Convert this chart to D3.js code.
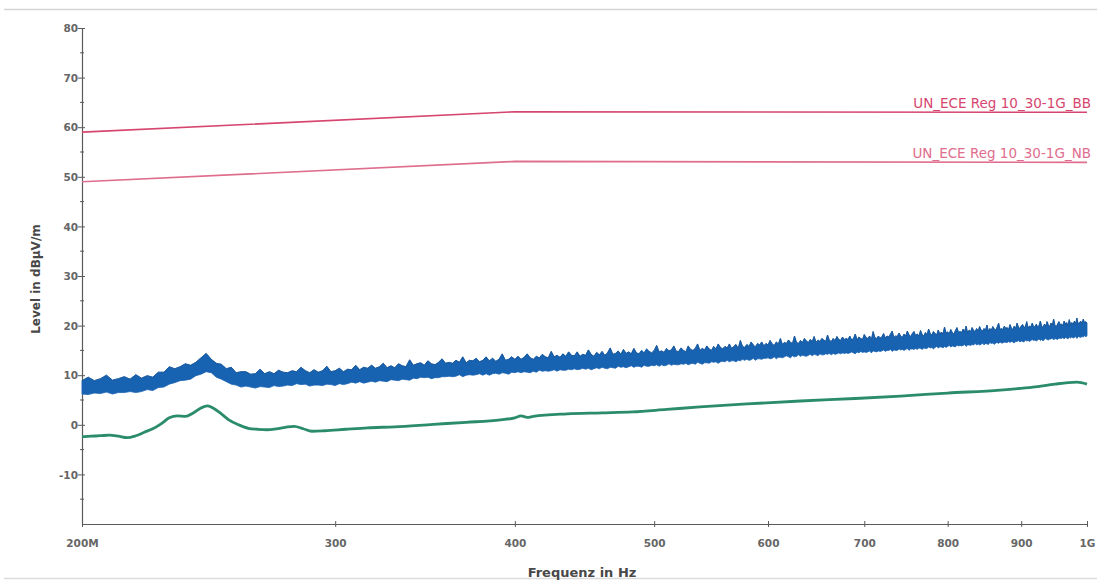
<!DOCTYPE html>
<html>
<head>
<meta charset="utf-8">
<script src="https://cdn.jsdelivr.net/npm/d3@7"></script>
<style>
  html, body { margin: 0; padding: 0; background: #fff; }
  svg { display: block; }
  text { font-family: "DejaVu Sans", Verdana, sans-serif; }
</style>
</head>
<body>
<svg id="chart" width="1097" height="581"></svg>
<script>
// ---- data ---------------------------------------------------------------
// Axis ticks
const yTicks = [-10, 0, 10, 20, 30, 40, 50, 60, 70, 80];
const yMinorTicks = [-15, -5, 5, 15, 25, 35, 45, 55, 65, 75];
const xTickFreqs = [200, 300, 400, 500, 600, 700, 800, 900, 1000];
const xTickLabels = ["200M", "300", "400", "500", "600", "700", "800", "900", "1G"];

// Limit lines (MHz, dBµV/m)
const limitFreq = [200, 400, 1000];
const limitBB = [59.0, 63.1, 63.0];
const limitNB = [49.0, 53.1, 52.9];
const limitNames = ["UN_ECE Reg 10_30-1G_BB", "UN_ECE Reg 10_30-1G_NB"];

// Peak sweep: 200 MHz .. 1 GHz in 2 MHz steps; upper and lower envelope of the trace
const sweepStartMHz = 200;
const sweepStepMHz = 2;
const peakHi = [
  8.9, 9.6, 8.9, 9.3, 10.0, 9.0, 9.3, 9.7, 9.2, 10.1, 9.4, 9.9, 9.6, 10.6, 10.6, 11.7, 11.3, 11.7, 12.3, 12.0,
  12.6, 13.5, 14.4, 13.2, 12.4, 12.2, 11.3, 11.6, 10.5, 10.7, 10.7, 10.2, 10.3, 11.2, 10.3, 10.7, 10.3, 11.0, 10.6, 10.5,
  10.9, 10.7, 11.6, 10.9, 10.5, 11.1, 10.6, 10.9, 11.8, 10.7, 10.9, 11.4, 10.7, 11.2, 11.1, 12.0, 11.1, 11.6, 11.4, 12.0,
  11.4, 11.7, 12.4, 11.5, 11.9, 11.5, 12.3, 11.9, 11.7, 13.1, 12.0, 12.3, 12.5, 12.0, 12.9, 12.3, 12.1, 12.6, 13.3, 12.4,
  12.6, 12.4, 13.0, 12.6, 13.7, 12.5, 13.0, 12.9, 13.4, 12.7, 13.0, 13.7, 12.9, 13.4, 12.8, 13.2, 14.3, 13.0, 13.2, 13.7,
  13.2, 13.8, 13.2, 13.6, 14.3, 13.5, 13.2, 13.8, 13.5, 14.2, 13.7, 13.5, 14.8, 13.7, 14.0, 13.6, 14.3, 13.8, 14.7, 14.0,
  13.9, 14.7, 13.8, 14.2, 14.0, 15.1, 14.2, 13.8, 14.6, 14.1, 14.8, 14.0, 14.5, 15.5, 14.2, 14.4, 14.9, 14.2, 15.2, 14.4,
  14.7, 14.3, 15.4, 14.5, 14.3, 15.0, 14.5, 15.3, 14.8, 14.5, 15.0, 16.0, 14.7, 14.9, 14.6, 15.4, 14.9, 15.1, 15.9, 14.8,
  14.8, 15.5, 15.0, 14.7, 15.9, 15.2, 15.0, 15.4, 16.3, 15.0, 15.4, 15.1, 15.9, 15.3, 15.0, 15.8, 15.3, 16.3, 15.6, 15.3,
  15.8, 15.5, 16.3, 15.4, 15.8, 16.2, 15.4, 17.0, 15.8, 15.6, 16.2, 15.8, 16.7, 16.1, 15.7, 16.4, 16.1, 16.7, 15.9, 16.4,
  16.1, 17.0, 16.3, 16.0, 16.7, 16.3, 17.4, 16.2, 16.6, 16.4, 17.1, 16.6, 16.4, 17.9, 16.6, 16.4, 17.0, 16.6, 17.4, 16.9,
  16.6, 17.2, 16.8, 17.8, 16.6, 17.1, 16.8, 17.4, 17.1, 16.8, 18.1, 17.0, 16.8, 17.4, 17.0, 17.8, 17.2, 17.0, 17.7, 17.2,
  17.4, 17.2, 17.9, 17.1, 17.4, 18.3, 17.1, 17.7, 17.4, 17.2, 18.2, 17.6, 17.4, 17.9, 17.2, 18.8, 17.6, 17.4, 17.9, 17.5,
  17.7, 18.4, 17.5, 17.9, 17.7, 18.3, 18.9, 17.6, 17.9, 17.8, 18.5, 17.9, 17.6, 18.3, 17.9, 18.9, 18.1, 17.8, 18.4, 18.8,
  18.0, 18.3, 17.9, 19.0, 18.2, 17.9, 18.6, 18.2, 19.3, 18.4, 18.1, 18.8, 18.4, 18.1, 19.1, 18.3, 18.7, 18.3, 19.7, 18.5,
  18.7, 18.4, 19.2, 18.6, 18.3, 19.0, 19.6, 18.6, 18.8, 18.6, 19.3, 18.8, 19.9, 18.5, 19.1, 18.8, 19.6, 19.0, 18.8, 19.4,
  18.9, 19.8, 19.1, 18.9, 19.4, 19.1, 20.1, 18.8, 19.4, 19.1, 19.8, 19.3, 19.1, 19.7, 20.5, 19.2, 19.4, 19.2, 19.9, 19.4,
  19.6, 19.2, 20.2, 19.5, 19.2, 19.9, 19.4, 20.5, 19.7, 19.4, 19.9, 20.2, 19.6, 19.8, 20.8, 19.5, 19.9, 19.7, 20.5, 19.8,
  19.7, 20.3, 19.7, 20.0, 20.9, 19.9, 19.6, 20.3, 19.9, 20.8, 20.1, 19.8, 20.5, 20.1, 21.3, 20.0, 19.8, 20.3, 20.8, 20.2,
  20.3, 20.0, 20.9, 20.3, 20.6, 20.0, 21.2, 20.2, 20.6, 20.2, 20.9, 20.4, 21.5, 20.3, 20.6, 20.9, 20.4, 21.3, 20.6, 20.8,
  20.5
];
const peakLo = [
  6.2, 6.1, 6.4, 6.3, 6.6, 6.2, 6.5, 6.5, 6.7, 6.5, 6.7, 7.1, 6.9, 7.5, 7.6, 8.2, 8.5, 8.9, 9.0, 9.2,
  9.9, 10.2, 10.7, 10.5, 9.6, 9.2, 8.7, 8.2, 8.0, 7.6, 7.8, 7.6, 7.4, 7.7, 7.6, 7.5, 7.9, 7.7, 7.8, 8.0,
  7.9, 8.3, 8.1, 8.2, 7.8, 8.0, 8.0, 7.9, 8.2, 8.1, 7.9, 8.3, 8.1, 8.3, 8.6, 8.4, 8.7, 8.4, 8.6, 8.8,
  8.6, 8.9, 8.8, 8.7, 9.1, 9.0, 8.9, 9.2, 9.1, 9.0, 9.4, 9.3, 9.6, 9.5, 9.6, 9.3, 9.5, 9.5, 9.7, 9.7,
  9.8, 9.7, 9.8, 10.1, 9.7, 10.0, 10.1, 10.0, 10.1, 10.3, 10.0, 10.3, 10.0, 10.3, 10.4, 10.2, 10.5, 10.4, 10.2, 10.6,
  10.5, 10.7, 10.5, 10.7, 10.6, 10.5, 10.8, 10.6, 11.0, 10.8, 10.9, 10.8, 10.9, 11.1, 10.8, 11.1, 11.0, 11.0, 11.2, 11.1,
  11.3, 11.1, 11.2, 11.4, 11.2, 11.4, 11.1, 11.3, 11.5, 11.3, 11.6, 11.4, 11.3, 11.6, 11.5, 11.4, 11.8, 11.6, 11.7, 11.5,
  11.7, 11.9, 11.6, 11.8, 11.8, 11.6, 12.0, 11.8, 11.8, 12.0, 11.9, 12.1, 11.8, 12.1, 11.9, 12.0, 12.3, 12.0, 12.2, 12.1,
  12.1, 12.3, 12.2, 12.4, 12.1, 12.3, 12.4, 12.2, 12.6, 12.4, 12.2, 12.5, 12.5, 12.4, 12.7, 12.6, 12.7, 12.4, 12.7, 12.8,
  12.7, 13.0, 12.7, 12.9, 12.9, 12.7, 13.0, 12.9, 13.2, 13.0, 13.2, 13.0, 13.1, 13.4, 13.0, 13.3, 13.3, 13.2, 13.4, 13.4,
  13.5, 13.3, 13.4, 13.7, 13.3, 13.6, 13.6, 13.5, 13.7, 13.9, 13.7, 13.5, 13.9, 13.7, 13.8, 14.1, 13.8, 14.0, 13.9, 13.8,
  14.0, 14.2, 13.9, 14.2, 14.1, 13.9, 14.3, 14.1, 14.1, 14.3, 14.2, 14.4, 14.1, 14.4, 14.2, 14.3, 14.5, 14.3, 14.5, 14.4,
  14.5, 14.4, 14.5, 14.7, 14.5, 14.3, 14.7, 14.5, 14.8, 14.6, 14.7, 14.6, 14.7, 14.9, 14.5, 14.9, 14.8, 14.7, 14.9, 14.8,
  14.9, 15.1, 14.8, 15.0, 15.0, 15.2, 14.8, 15.1, 15.0, 15.0, 15.3, 15.1, 15.2, 15.0, 15.2, 15.4, 15.0, 15.3, 15.3, 15.2,
  15.4, 15.2, 15.5, 15.4, 15.2, 15.5, 15.4, 15.4, 15.7, 15.5, 15.6, 15.3, 15.6, 15.8, 15.5, 15.7, 15.7, 15.5, 15.8, 15.6,
  15.8, 16.0, 15.7, 15.9, 15.8, 15.7, 16.1, 15.9, 16.0, 15.9, 16.0, 16.2, 15.8, 16.1, 16.1, 16.0, 16.2, 16.1, 16.4, 16.1,
  16.3, 16.1, 16.2, 16.5, 16.1, 16.4, 16.3, 16.2, 16.6, 16.4, 16.5, 16.2, 16.5, 16.6, 16.4, 16.7, 16.5, 16.5, 16.7, 16.6,
  16.6, 16.8, 16.6, 16.8, 16.7, 16.5, 16.8, 16.8, 17.0, 16.7, 16.9, 16.8, 16.7, 17.1, 16.9, 17.0, 16.8, 17.0, 17.2, 17.0,
  17.1, 16.9, 17.1, 17.3, 17.0, 17.2, 16.9, 17.2, 17.4, 17.2, 17.1, 17.3, 17.3, 17.5, 17.1, 17.4, 17.3, 17.2, 17.5, 17.4,
  17.4, 17.6, 17.3, 17.6, 17.5, 17.3, 17.7, 17.5, 17.7, 17.5, 17.6, 17.8, 17.4, 17.8, 17.7, 17.6, 17.8, 17.7, 18.0, 17.7,
  18.0
];

// Average trace (MHz, dBµV/m)
const avgFreq = [200, 203, 206, 209, 212, 215, 218, 221, 224, 227,
  230, 233, 236, 239, 242, 244.5, 247, 250, 253, 257,
  261, 265, 269, 273, 277, 281, 285, 289, 295, 305,
  316, 330, 351, 370, 391, 400, 404, 408, 412, 435,
  460, 483, 510, 538, 580, 632, 690, 742, 800, 870,
  917, 950, 970, 984, 1000];
const avgLevel = [-2.4, -2.3, -2.2, -2.1, -2.3, -2.6, -2.2, -1.5, -0.8, 0.2,
  1.4, 1.8, 1.7, 2.4, 3.4, 3.8, 3.3, 2.2, 1.0, 0.0,
  -0.7, -0.9, -1.0, -0.8, -0.5, -0.3, -0.8, -1.3, -1.2, -0.9,
  -0.6, -0.4, 0.1, 0.5, 1.0, 1.4, 1.8, 1.5, 1.7, 2.2,
  2.4, 2.6, 3.1, 3.6, 4.2, 4.8, 5.3, 5.8, 6.4, 7.0,
  7.6, 8.2, 8.5, 8.6, 8.2];

// ---- layout -------------------------------------------------------------
const svg = d3.select("#chart");
const plotLeft = 82, plotRight = 1087, plotTop = 28, plotBottom = 524;

const x = d3.scaleLog().domain([200, 1000]).range([plotLeft, plotRight]);
const y = d3.scaleLinear().domain([-20, 80]).range([plotBottom, plotTop]);

const axisColor = "#5a5a5a";
const textColor = "#666";

// faint page frame lines
svg.append("line").attr("x1", 4).attr("x2", 1097).attr("y1", 9.5).attr("y2", 9.5)
  .attr("stroke", "#d4d4d4").attr("stroke-width", 1.5);
svg.append("line").attr("x1", 4).attr("x2", 1097).attr("y1", 578.5).attr("y2", 578.5)
  .attr("stroke", "#dcdcdc").attr("stroke-width", 1.5);

// ---- axes ---------------------------------------------------------------
const gx = svg.append("g").attr("transform", `translate(0,${plotBottom})`);
gx.call(d3.axisBottom(x).tickValues(xTickFreqs).tickSize(0).tickFormat(""));
gx.select(".domain").attr("stroke", axisColor).attr("stroke-width", 1.2);
gx.selectAll(".tick").append("line").attr("y1", -3).attr("y2", 3)
  .attr("stroke", axisColor).attr("stroke-width", 1);
gx.selectAll(".tick").each(function(d, i) {
  d3.select(this).append("text")
    .attr("y", 23)
    .attr("text-anchor", "middle")
    .attr("fill", textColor)
    .attr("font-size", 10.5)
    .attr("font-weight", "bold")
    .text(xTickLabels[i]);
});

const gy = svg.append("g").attr("transform", `translate(${plotLeft},0)`);
gy.call(d3.axisLeft(y).tickValues(yTicks).tickSize(0).tickFormat(""));
gy.select(".domain").attr("stroke", axisColor).attr("stroke-width", 1.2);
gy.selectAll(".tick").append("line").attr("x1", -4).attr("x2", 3)
  .attr("stroke", axisColor).attr("stroke-width", 1);
gy.selectAll(".tick").append("text")
  .attr("x", -4)
  .attr("dy", "0.35em")
  .attr("text-anchor", "end")
  .attr("fill", textColor)
  .attr("font-size", 10.5)
  .attr("font-weight", "bold")
  .text(d => d);
gy.selectAll(".minor").data(yMinorTicks).enter().append("line")
  .attr("class", "minor")
  .attr("x1", -2).attr("x2", 2)
  .attr("y1", d => y(d)).attr("y2", d => y(d))
  .attr("stroke", axisColor).attr("stroke-width", 1);

// axis titles
svg.append("text")
  .attr("x", 582).attr("y", 577)
  .attr("text-anchor", "middle")
  .attr("fill", "#484848")
  .attr("font-size", 13)
  .attr("font-weight", "bold")
  .text("Frequenz in Hz");
svg.append("text")
  .attr("transform", "translate(40,279) rotate(-90)")
  .attr("text-anchor", "middle")
  .attr("fill", "#484848")
  .attr("font-size", 12)
  .attr("font-weight", "bold")
  .text("Level in dBµV/m");

// ---- limit lines --------------------------------------------------------
const limitLine = d3.line().x(d => x(d[0])).y(d => y(d[1]));
const limits = [
  { name: limitNames[0], values: limitBB, color: "#d6456f" },
  { name: limitNames[1], values: limitNB, color: "#df6d8d" }
];
limits.forEach(l => {
  svg.append("path")
    .datum(limitFreq.map((f, i) => [f, l.values[i]]))
    .attr("d", limitLine)
    .attr("fill", "none")
    .attr("stroke", l.color)
    .attr("stroke-width", 1.6);
  svg.append("text")
    .attr("x", 1091)
    .attr("y", y(l.values[l.values.length - 1]) - 4)
    .attr("text-anchor", "end")
    .attr("fill", l.color)
    .attr("font-size", 13.5)
    .text(l.name);
});

// ---- peak trace (blue band) --------------------------------------------
const peakData = peakHi.map((hi, i) => ({
  f: sweepStartMHz + i * sweepStepMHz, hi: hi, lo: peakLo[i]
}));
svg.append("path")
  .datum(peakData)
  .attr("d", d3.area().x(d => x(d.f)).y0(d => y(d.lo)).y1(d => y(d.hi)))
  .attr("fill", "#1862b2")
  .attr("stroke", "#1862b2")
  .attr("stroke-width", 0.8);
svg.append("path")
  .datum(peakData)
  .attr("d", d3.line().x(d => x(d.f)).y(d => y(d.hi)))
  .attr("fill", "none")
  .attr("stroke", "#14508f")
  .attr("stroke-width", 0.7);

// ---- average trace (green) ----------------------------------------------
svg.append("path")
  .datum(avgFreq.map((f, i) => [f, avgLevel[i]]))
  .attr("d", d3.line().x(d => x(d[0])).y(d => y(d[1])).curve(d3.curveMonotoneX))
  .attr("fill", "none")
  .attr("stroke", "#2b8c6b")
  .attr("stroke-width", 2.8)
  .attr("stroke-linejoin", "round");
</script>
</body>
</html>
